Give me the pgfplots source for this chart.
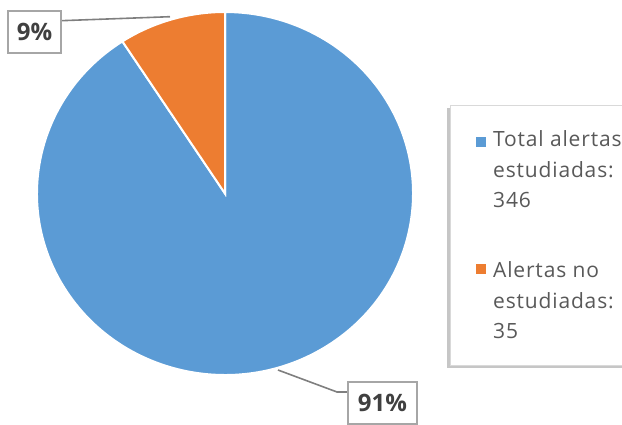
\documentclass[border=0pt]{standalone}
\usepackage{pgfplots}
\pgfplotsset{compat=1.18}
\usepackage{pgfplotstable}
\usepackage{fontspec}
\setmainfont{Open Sans}
\newfontfamily\legfont[LetterSpace=4]{Open Sans}
\usetikzlibrary{shadows}
\definecolor{cblue}{HTML}{5B9BD5}
\definecolor{corange}{HTML}{ED7D31}
\definecolor{ctext}{HTML}{404040}
\definecolor{clegend}{HTML}{595959}
\definecolor{cbox}{HTML}{A6A6A6}
\definecolor{cline}{HTML}{7F7F7F}
\definecolor{cborder}{HTML}{D9D9D9}
\pgfplotstableread{
name value
Total 346
NoEst 35
}\piedata
\begin{document}
\begin{tikzpicture}
\pgfplotstablegetelem{0}{value}\of\piedata \let\vA\pgfplotsretval
\pgfplotstablegetelem{1}{value}\of\piedata \let\vB\pgfplotsretval
\pgfmathsetmacro{\tot}{\vA+\vB}
\pgfmathsetmacro{\angB}{360*(\vB/\tot)}
\pgfmathsetmacro{\pA}{int(round(100*(\vA/\tot)))}
\pgfmathsetmacro{\pB}{int(round(100*(\vB/\tot)))}
\useasboundingbox (0,0) rectangle (622pt,424pt);
\clip (0,0) rectangle (622pt,424pt);
\begin{axis}[at={(0,0)}, anchor=south west, hide axis, scale only axis,
  width=622pt, height=424pt, xmin=0, xmax=622, ymin=0, ymax=424, clip=false]
% slices
\filldraw[fill=cblue, draw=white, line width=2pt] (axis cs:225,230.5) -- ++(90+\angB:188pt and 181.5pt)
  arc[start angle=90+\angB, end angle=450, x radius=188pt, y radius=181.5pt] -- cycle;
\filldraw[fill=corange, draw=white, line width=2pt] (axis cs:225,230.5) -- ++(90:188pt and 181.5pt)
  arc[start angle=90, end angle=90+\angB, x radius=188pt, y radius=181.5pt] -- cycle;
% leader lines
\draw[cline, line width=1.6pt] (axis cs:61,403.3) -- (axis cs:170,407.3);
\draw[cline, line width=1.6pt] (axis cs:278,54) -- (axis cs:337,32) -- (axis cs:348,32);
% data labels
\node[draw=cbox, fill=white, line width=1.8pt, minimum width=53pt, minimum height=42pt, inner sep=0pt,
  font=\bfseries\fontsize{24}{28}\selectfont, text=ctext] at (axis cs:34.5,392) {\pB\%};
\node[draw=cbox, fill=white, line width=1.8pt, minimum width=69pt, minimum height=42pt, inner sep=0pt,
  font=\bfseries\fontsize{24}{28}\selectfont, text=ctext] at (axis cs:382.5,21) {\pA\%};
% legend
\draw[draw=cborder, fill=white, drop shadow={shadow xshift=-3pt, shadow yshift=-3pt, opacity=0.45}]
  (axis cs:450,59) rectangle (axis cs:640,319);
\fill[cblue] (axis cs:476,277) rectangle (axis cs:486,287);
\fill[corange] (axis cs:476,150) rectangle (axis cs:486,160);
\begin{scope}[every node/.style={anchor=base west, inner sep=0pt, text=clegend, font=\legfont\fontsize{21}{25}\selectfont}]
\node at (axis cs:493,277) {Total alertas};
\node at (axis cs:493,246) {estudiadas:};
\node at (axis cs:493,216) {\vA};
\node at (axis cs:493,147) {Alertas no};
\node at (axis cs:493,116) {estudiadas:};
\node at (axis cs:493,86) {\vB};
\end{scope}
\end{axis}
\end{tikzpicture}
\end{document}
